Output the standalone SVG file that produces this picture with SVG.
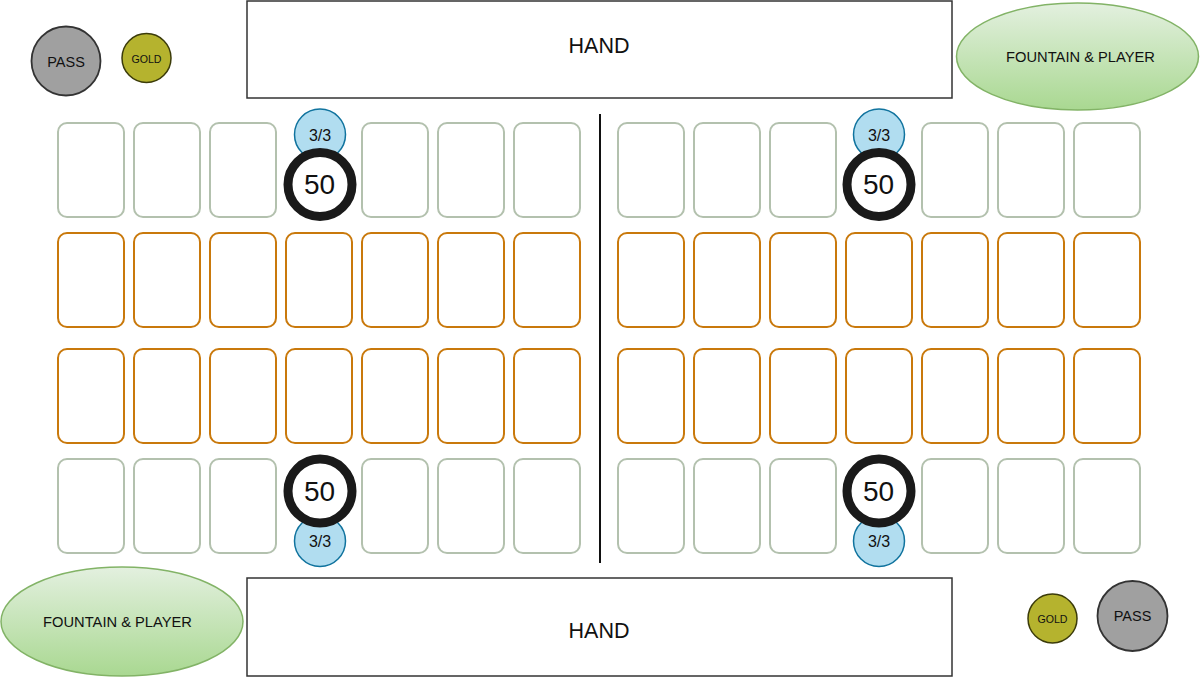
<svg xmlns="http://www.w3.org/2000/svg" width="1200" height="677" viewBox="0 0 1200 677">
<style>
text{font-family:"Liberation Sans",Arial,sans-serif;fill:#111;text-anchor:middle;dominant-baseline:central}
.hand{fill:#fff;stroke:#333;stroke-width:1.5}
.slot{fill:#fff;stroke:#b3c1ae;stroke-width:2}
.lane{fill:#fff;stroke:#c9790c;stroke-width:2}
.cnt{fill:#b1ddf0;stroke:#10739e;stroke-width:1.5}
.hp{fill:#fff;stroke:#1a1a1a;stroke-width:9}
.fp{fill:url(#g);stroke:#82b366;stroke-width:1.5}
.pass{fill:#a0a0a0;stroke:#333;stroke-width:1.8}
.gold{fill:#b5b32e;stroke:#3b3b0a;stroke-width:1.5}
.t50{font-size:28px}
.t33{font-size:16px}
.thand{font-size:21.5px}
.tfp{font-size:14.7px}
.tpass{font-size:14.5px}
.tgold{font-size:10.6px}
</style>
<defs>
<linearGradient id="g" x1="0" y1="0" x2="0" y2="1">
<stop offset="0" stop-color="#e3f0df"/>
<stop offset="1" stop-color="#a9d891"/>
</linearGradient>
<rect id="c" width="66" height="94" rx="9"/>
</defs>
<rect width="1200" height="677" fill="#fff"/>

<g id="connectors">
<line x1="600" y1="114" x2="600" y2="563" stroke="#111" stroke-width="2"/>
</g>

<g id="hand-top"><rect class="hand" x="247" y="1" width="705" height="97"/><text class="thand" x="599" y="46">HAND</text></g>
<g id="hand-bottom"><rect class="hand" x="247" y="578" width="705" height="98"/><text class="thand" x="599" y="630.5">HAND</text></g>

<g id="pass-top"><circle class="pass" cx="66" cy="61" r="34.5"/><text class="tpass" x="66" y="61.5">PASS</text></g>
<g id="gold-top"><circle class="gold" cx="146.5" cy="58" r="24.5"/><text class="tgold" x="146.5" y="58.5">GOLD</text></g>
<g id="fountain-top"><ellipse class="fp" cx="1077.5" cy="56.5" rx="121" ry="53.5"/><text class="tfp" x="1080.5" y="57">FOUNTAIN &amp; PLAYER</text></g>
<g id="fountain-bottom"><ellipse class="fp" cx="122" cy="621.5" rx="121" ry="54.5"/><text class="tfp" x="117.5" y="622">FOUNTAIN &amp; PLAYER</text></g>
<g id="gold-bottom"><circle class="gold" cx="1052.5" cy="618.5" r="24.5"/><text class="tgold" x="1052.5" y="619">GOLD</text></g>
<g id="pass-bottom"><circle class="pass" cx="1132.5" cy="616" r="35"/><text class="tpass" x="1132.5" y="616">PASS</text></g>

<g id="left-top-row" class="slot">
<use href="#c" x="58" y="123"/><use href="#c" x="134" y="123"/><use href="#c" x="210" y="123"/><use href="#c" x="362" y="123"/><use href="#c" x="438" y="123"/><use href="#c" x="514" y="123"/>
</g>
<g id="right-top-row" class="slot">
<use href="#c" x="618" y="123"/><use href="#c" x="694" y="123"/><use href="#c" x="770" y="123"/><use href="#c" x="922" y="123"/><use href="#c" x="998" y="123"/><use href="#c" x="1074" y="123"/>
</g>
<g id="left-lane-1" class="lane">
<use href="#c" x="58" y="233"/><use href="#c" x="134" y="233"/><use href="#c" x="210" y="233"/><use href="#c" x="286" y="233"/><use href="#c" x="362" y="233"/><use href="#c" x="438" y="233"/><use href="#c" x="514" y="233"/>
</g>
<g id="right-lane-1" class="lane">
<use href="#c" x="618" y="233"/><use href="#c" x="694" y="233"/><use href="#c" x="770" y="233"/><use href="#c" x="846" y="233"/><use href="#c" x="922" y="233"/><use href="#c" x="998" y="233"/><use href="#c" x="1074" y="233"/>
</g>
<g id="left-lane-2" class="lane">
<use href="#c" x="58" y="349"/><use href="#c" x="134" y="349"/><use href="#c" x="210" y="349"/><use href="#c" x="286" y="349"/><use href="#c" x="362" y="349"/><use href="#c" x="438" y="349"/><use href="#c" x="514" y="349"/>
</g>
<g id="right-lane-2" class="lane">
<use href="#c" x="618" y="349"/><use href="#c" x="694" y="349"/><use href="#c" x="770" y="349"/><use href="#c" x="846" y="349"/><use href="#c" x="922" y="349"/><use href="#c" x="998" y="349"/><use href="#c" x="1074" y="349"/>
</g>
<g id="left-bottom-row" class="slot">
<use href="#c" x="58" y="459"/><use href="#c" x="134" y="459"/><use href="#c" x="210" y="459"/><use href="#c" x="362" y="459"/><use href="#c" x="438" y="459"/><use href="#c" x="514" y="459"/>
</g>
<g id="right-bottom-row" class="slot">
<use href="#c" x="618" y="459"/><use href="#c" x="694" y="459"/><use href="#c" x="770" y="459"/><use href="#c" x="922" y="459"/><use href="#c" x="998" y="459"/><use href="#c" x="1074" y="459"/>
</g>

<g id="count-tl"><circle class="cnt" cx="320" cy="134.5" r="25.5"/><text class="t33" x="320" y="135">3/3</text></g>
<g id="hp-tl"><circle class="hp" cx="320" cy="184.5" r="32"/><text class="t50" x="319.5" y="184.5">50</text></g>
<g id="count-tr"><circle class="cnt" cx="879" cy="134.5" r="25.5"/><text class="t33" x="879" y="135">3/3</text></g>
<g id="hp-tr"><circle class="hp" cx="879" cy="184.5" r="32"/><text class="t50" x="878.5" y="184.5">50</text></g>
<g id="count-bl"><circle class="cnt" cx="320" cy="541" r="25.5"/><text class="t33" x="320" y="541.5">3/3</text></g>
<g id="hp-bl"><circle class="hp" cx="320" cy="491" r="32"/><text class="t50" x="319.5" y="491">50</text></g>
<g id="count-br"><circle class="cnt" cx="879" cy="541" r="25.5"/><text class="t33" x="879" y="541.5">3/3</text></g>
<g id="hp-br"><circle class="hp" cx="879" cy="491" r="32"/><text class="t50" x="878.5" y="491">50</text></g>
</svg>
